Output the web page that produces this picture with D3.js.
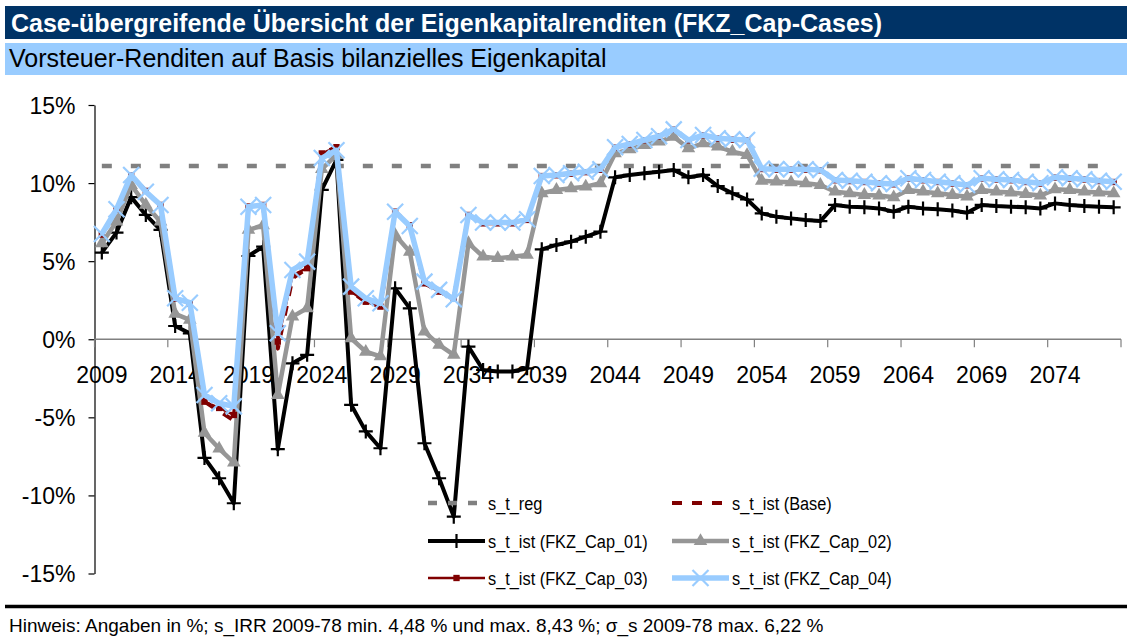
<!DOCTYPE html>
<html>
<head>
<meta charset="utf-8">
<script src="https://cdn.jsdelivr.net/npm/d3@7/dist/d3.min.js"></script>
<style>
  body { margin: 0; background: #fff; }
  svg { display: block; font-family: Arial, "Liberation Sans", sans-serif; }
</style>
</head>
<body>
<svg id="chart" width="1127" height="638"></svg>
<script>
// Years on the category axis
const years = [2009,2010,2011,2012,2013,2014,2015,2016,2017,2018,2019,2020,2021,2022,2023,2024,2025,2026,2027,2028,
  2029,2030,2031,2032,2033,2034,2035,2036,2037,2038,2039,2040,2041,2042,2043,2044,2045,2046,2047,2048,
  2049,2050,2051,2052,2053,2054,2055,2056,2057,2058,2059,2060,2061,2062,2063,2064,2065,2066,2067,2068,
  2069,2070,2071,2072,2073,2074,2075,2076,2077,2078];

// Labelled years and percent ticks
const xTickLabels = [2009,2014,2019,2024,2029,2034,2039,2044,2049,2054,2059,2064,2069,2074];
const yTicks = [-15,-10,-5,0,5,10,15];

// Regulatory target return (%)
const sReg = [11.1,11.1,11.1,11.1,11.1,11.1,11.1,11.1,11.1,11.1,11.1,11.1,11.1,11.1,11.1,11.1,11.1,11.1,11.1,11.1,
  11.1,11.1,11.1,11.1,11.1,11.1,11.1,11.1,11.1,11.1,11.1,11.1,11.1,11.1,11.1,11.1,11.1,11.1,11.1,11.1,
  11.1,11.1,11.1,11.1,11.1,11.1,11.1,11.1,11.1,11.1,11.1,11.1,11.1,11.1,11.1,11.1,11.1,11.1,11.1,11.1,
  11.1,11.1,11.1,11.1,11.1,11.1,11.1,11.1,11.1,11.1];

// Actual returns, base case (%)
const sBase = [6.7,8.3,10.5,9.5,8.6,2.6,2.3,-4.0,-4.6,-5.2,8.5,8.6,-0.6,3.9,4.55,11.9,12.3,3.05,2.4,2.09,
  8.17,7.3,3.58,3.05,2.62,7.96,7.42,7.42,7.42,7.64,10.45,10.5,10.6,10.7,10.85,12.27,12.48,12.74,12.98,13.42,
  12.74,13.06,12.85,12.78,12.74,10.9,10.86,10.86,10.86,10.82,10.18,10.13,10.07,9.97,9.92,10.29,10.18,10.07,9.97,9.86,
  10.29,10.23,10.18,10.07,9.97,10.35,10.29,10.23,10.13,10.07];

// Actual returns, FKZ_Cap_01 (%)
const sCap01 = [5.55,6.83,9.1,7.96,7.0,0.85,0.38,-7.6,-8.9,-10.5,5.33,5.93,-7.04,-1.54,-1.0,9.56,11.48,-4.2,-5.9,-6.98,
  3.26,1.98,-6.66,-8.9,-11.36,-0.47,-1.97,-2.07,-2.07,-1.86,5.76,6.04,6.25,6.57,6.89,10.37,10.52,10.63,10.73,10.84,
  10.37,10.52,9.81,9.35,8.95,8.06,7.85,7.74,7.64,7.57,8.6,8.49,8.45,8.38,8.17,8.49,8.38,8.32,8.24,8.1,
  8.6,8.53,8.49,8.45,8.38,8.7,8.6,8.53,8.49,8.45];

// Actual returns, FKZ_Cap_02 (%)
const sCap02 = [6.15,7.53,9.88,8.6,7.53,1.62,1.24,-6.0,-7.0,-7.9,7.0,7.3,-3.57,1.45,1.98,10.9,11.8,0.06,-0.8,-1.1,
  6.68,5.6,0.49,-0.36,-1.0,6.15,5.29,5.19,5.29,5.4,9.35,9.56,9.67,9.77,9.99,11.9,12.16,12.44,12.65,12.97,
  12.23,12.55,12.33,12.01,11.8,10.15,10.09,10.05,9.99,9.88,9.45,9.35,9.24,9.2,9.09,9.56,9.45,9.35,9.24,9.13,
  9.56,9.45,9.4,9.3,9.2,9.6,9.56,9.45,9.4,9.35];

// Actual returns, FKZ_Cap_03 (%)
const sCap03 = [6.7,8.3,10.5,9.5,8.6,2.6,2.3,-4.0,-4.4,-4.85,8.5,8.6,-0.15,4.1,4.55,11.9,12.3,3.05,2.4,2.09,
  8.17,7.3,3.58,3.05,2.62,7.96,7.42,7.42,7.42,7.64,10.45,10.5,10.6,10.7,10.85,12.27,12.48,12.74,12.98,13.42,
  12.74,13.06,12.85,12.78,12.74,10.9,10.86,10.86,10.86,10.82,10.18,10.13,10.07,9.97,9.92,10.29,10.18,10.07,9.97,9.86,
  10.29,10.23,10.18,10.07,9.97,10.35,10.29,10.23,10.13,10.07];

// Actual returns, FKZ_Cap_04 (%)
const sCap04 = [6.74,8.32,10.52,9.45,8.6,2.62,2.34,-3.57,-4.1,-4.3,8.49,8.6,0.38,4.44,4.97,11.6,12.1,3.37,2.62,2.3,
  8.17,7.25,3.69,3.16,2.56,7.96,7.47,7.47,7.47,7.68,10.45,10.52,10.63,10.73,10.88,12.29,12.5,12.76,13.0,13.44,
  12.76,13.08,12.87,12.8,12.76,10.92,10.88,10.88,10.88,10.84,10.2,10.15,10.09,9.99,9.94,10.31,10.2,10.09,9.99,9.88,
  10.31,10.25,10.2,10.09,9.99,10.37,10.31,10.25,10.15,10.09];

const seriesNames = ["s_t_reg","s_t_ist (Base)","s_t_ist (FKZ_Cap_01)","s_t_ist (FKZ_Cap_02)","s_t_ist (FKZ_Cap_03)","s_t_ist (FKZ_Cap_04)"];

const titleText = "Case-übergreifende Übersicht der Eigenkapitalrenditen (FKZ_Cap-Cases)";
const subtitleText = "Vorsteuer-Renditen auf Basis bilanzielles Eigenkapital";
const noteText = "Hinweis: Angaben in %; s_IRR 2009-78 min. 4,48 % und max. 8,43 %; σ_s 2009-78 max. 6,22 %";

// ---- styles per series ----
const styles = [
  { color: "#808080", width: 4.5, dash: "10,19", marker: null, legendDash: "9,11" },
  { color: "#800000", width: 4, dash: "10,10", marker: null, legendDash: "10,10" },
  { color: "#000000", width: 4, dash: null, marker: "plus" },
  { color: "#969696", width: 4.5, dash: null, marker: "triangle" },
  { color: "#800000", width: 2.5, dash: null, marker: "square" },
  { color: "#99CCFF", width: 5.5, dash: null, marker: "cross" }
];
const values = [sReg, sBase, sCap01, sCap02, sCap03, sCap04];

const svg = d3.select("#chart");
const W = 1127, H = 638;

// ---- header bars ----
svg.append("rect").attr("x", 5).attr("y", 6).attr("width", W - 5).attr("height", 33).attr("fill", "#003366");
svg.append("text").attr("x", 11).attr("y", 31.5).attr("fill", "#fff")
  .attr("font-size", 25).attr("font-weight", "bold").text(titleText);
svg.append("rect").attr("x", 5).attr("y", 43).attr("width", W - 5).attr("height", 32).attr("fill", "#99CCFF");
svg.append("text").attr("x", 9).attr("y", 67).attr("fill", "#000")
  .attr("font-size", 25).text(subtitleText);

// ---- scales ----
const x = d3.scaleBand().domain(years).range([94.5, 1121]).paddingInner(0).paddingOuter(0);
const y = d3.scaleLinear().domain([-15, 15]).range([573.5, 105]);
const cx = d => x(d) + x.bandwidth() / 2;

// ---- y axis ----
const yAxis = svg.append("g").attr("transform", "translate(94.5,0)")
  .call(d3.axisLeft(y).tickValues(yTicks).tickSize(6).tickSizeOuter(0).tickPadding(13)
    .tickFormat(d => d + "%"));
yAxis.select(".domain").attr("stroke", "#000").attr("stroke-width", 1.2);
yAxis.selectAll(".tick line").attr("stroke", "#000").attr("stroke-width", 1.2);
yAxis.selectAll(".tick text").attr("font-size", 23).attr("fill", "#000")
  .attr("font-family", "Arial, 'Liberation Sans', sans-serif").attr("dy", "0.36em");

// ---- x axis (zero line, ticks between categories, labels) ----
const y0 = y(0);
svg.append("line").attr("x1", 94.5).attr("x2", 1121).attr("y1", y0).attr("y2", y0)
  .attr("stroke", "#808080").attr("stroke-width", 1.5);
const boundaries = years.filter((d, i) => i % 5 === 0).map(d => x(d)).concat([x.range()[1]]);
svg.append("g").selectAll("line").data(boundaries).join("line")
  .attr("x1", d => d).attr("x2", d => d).attr("y1", y0).attr("y2", y0 + 8)
  .attr("stroke", "#808080").attr("stroke-width", 1.2);
const xAxis = svg.append("g").attr("transform", `translate(0,${y0})`)
  .call(d3.axisBottom(x).tickValues(xTickLabels).tickSize(0).tickPadding(27));
xAxis.select(".domain").remove();
xAxis.selectAll(".tick text").attr("font-size", 23).attr("fill", "#000")
  .attr("font-family", "Arial, 'Liberation Sans', sans-serif");

// ---- marker drawing ----
function drawMarker(sel, kind, color) {
  if (kind === "plus") {
    sel.append("path").attr("d", "M-7,0H7M0,-7V7").attr("stroke", color).attr("stroke-width", 2.2).attr("fill", "none");
  } else if (kind === "triangle") {
    sel.append("path").attr("d", d3.symbol(d3.symbolTriangle, 80)()).attr("fill", color);
  } else if (kind === "square") {
    sel.append("path").attr("d", d3.symbol(d3.symbolSquare, 40)()).attr("fill", color);
  } else if (kind === "cross") {
    sel.append("path").attr("d", "M-8,-8L8,8M-8,8L8,-8").attr("stroke", color).attr("stroke-width", 2.2).attr("fill", "none");
  }
}

// ---- series ----
const line = d3.line().x(d => cx(d.year)).y(d => y(d.v));
values.forEach((vals, k) => {
  const st = styles[k];
  const pts = years.map((yr, i) => ({ year: yr, v: vals[i] }));
  const g = svg.append("g").attr("class", "series");
  g.append("path").datum(pts).attr("d", line).attr("fill", "none")
    .attr("stroke", st.color).attr("stroke-width", st.width)
    .attr("stroke-linejoin", "round")
    .attr("stroke-dasharray", st.dash);
  if (st.marker) {
    g.selectAll("g.m").data(pts).join("g").attr("class", "m")
      .attr("transform", d => `translate(${cx(d.year)},${y(d.v)})`)
      .each(function () { drawMarker(d3.select(this), st.marker, st.color); });
  }
});

// ---- legend ----
const legendPos = [
  { x: 428, y: 503 }, { x: 672, y: 503 },
  { x: 428, y: 541 }, { x: 672, y: 541 },
  { x: 428, y: 578 }, { x: 672, y: 578 }
];
seriesNames.forEach((name, k) => {
  const st = styles[k];
  const p = legendPos[k];
  const g = svg.append("g").attr("transform", `translate(${p.x},${p.y})`);
  g.append("line").attr("x1", 0).attr("x2", 57).attr("y1", 0).attr("y2", 0)
    .attr("stroke", st.color).attr("stroke-width", st.width)
    .attr("stroke-dasharray", st.legendDash || null);
  if (st.marker) {
    const m = g.append("g").attr("transform", "translate(28.5,0)");
    drawMarker(m, st.marker, st.color);
  }
  // legend labels are set in a slightly condensed face
  g.append("text").attr("transform", "translate(60,0) scale(0.86,1)").attr("dy", "0.35em")
    .attr("font-size", 19).attr("fill", "#000").text(name);
});

// ---- footer ----
svg.append("line").attr("x1", 5).attr("x2", W).attr("y1", 606.5).attr("y2", 606.5)
  .attr("stroke", "#000").attr("stroke-width", 3.5);
svg.append("text").attr("x", 9).attr("y", 632).attr("font-size", 19).attr("fill", "#000").text(noteText);
</script>
</body>
</html>
